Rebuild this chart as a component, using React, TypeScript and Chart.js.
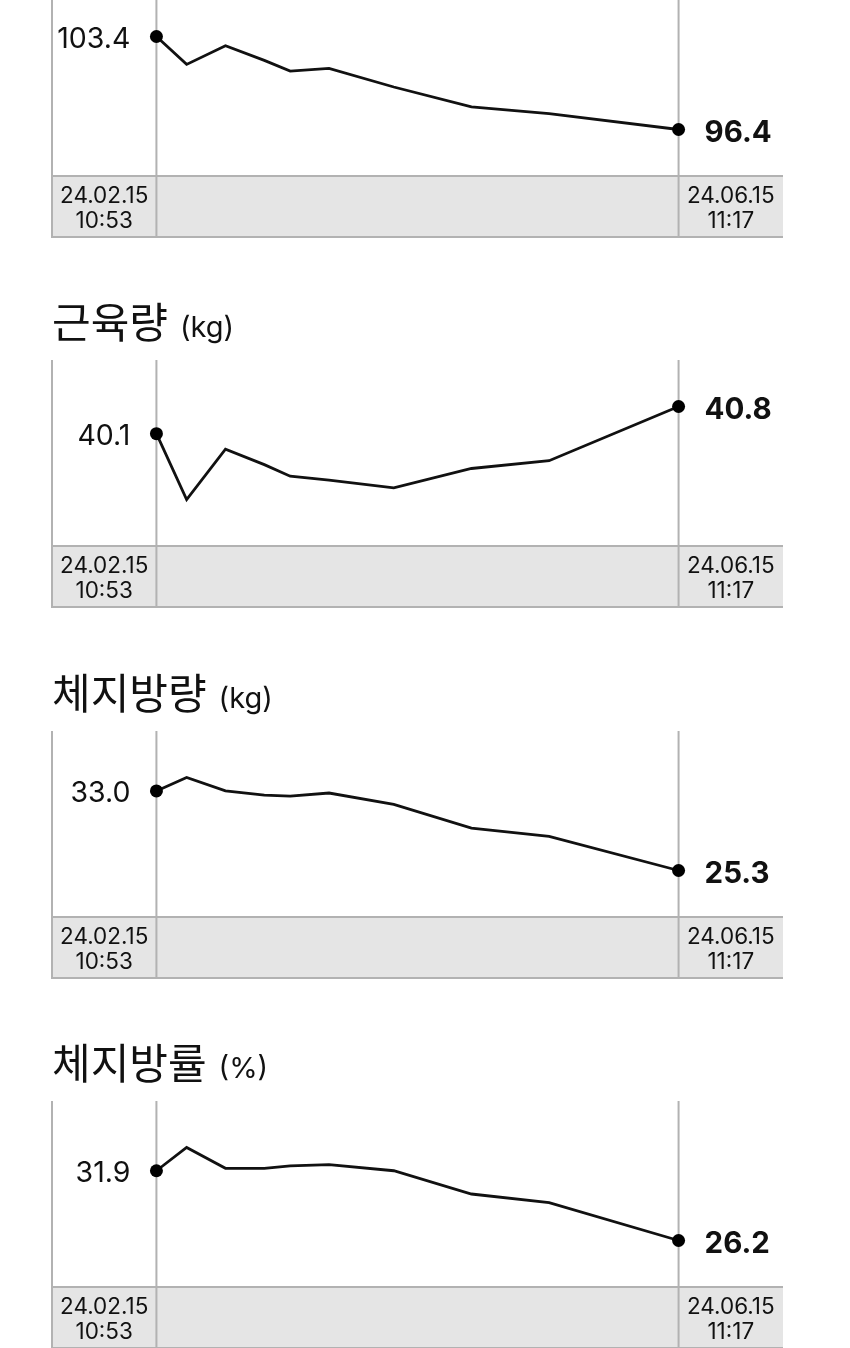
import React, { useEffect, useRef } from "react";
import { Chart, registerables } from "chart.js";

Chart.register(...registerables);

// ---- data ----
const measureDays = [0, 7, 16, 25, 31, 40, 55, 73, 91, 121]; // days since first measurement
const firstStamp = ["24.02.15", "10:53"];
const lastStamp = ["24.06.15", "11:17"];

const weightKg = [103.4, 101.3, 102.7, 101.6, 100.8, 101.0, 99.6, 98.1, 97.6, 96.4];
const muscleKg = [40.1, 38.4, 39.7, 39.3, 39.0, 38.9, 38.7, 39.2, 39.4, 40.8];
const fatKg = [33.0, 34.3, 33.0, 32.6, 32.5, 32.8, 31.7, 29.4, 28.6, 25.3];
const fatPct = [31.9, 33.8, 32.1, 32.1, 32.3, 32.4, 31.9, 30.0, 29.3, 26.2];

const panelTitles = ["체중", "근육량", "체지방량", "체지방률"];
const panelUnits = ["(kg)", "(kg)", "(kg)", "(%)"];
const panelSeries = [weightKg, muscleKg, fatKg, fatPct];

// ---- layout / style ----
const W = 850;
const PLOT_H = 186;
const BAND_H = 61;
const TOP_PAD = 70;
const LEFT = 52;
const RIGHT_EDGE = 783;
const FIRST_TOP = -10;
const PANEL_STEP = 370.3;
const GRID = "#b2b2b2";
const BAND = "#e5e5e5";
const INK = "#111111";
const LATIN = 'Inter, "Liberation Sans", Arial, sans-serif';
const KOREAN = '"Noto Sans CJK KR", "Noto Sans", sans-serif';

const decor = {
  id: "decor",
  beforeDatasetsDraw(chart: any, _args: any, opts: any) {
    const { ctx, chartArea: a, scales } = chart;
    const x0 = scales.x.getPixelForValue(measureDays[0]);
    const x1 = scales.x.getPixelForValue(measureDays[measureDays.length - 1]);
    const bandTop = a.bottom;
    const bandBot = a.bottom + BAND_H;
    ctx.save();
    ctx.fillStyle = BAND;
    ctx.fillRect(a.left, bandTop, a.right - a.left, BAND_H);
    ctx.strokeStyle = GRID;
    ctx.lineWidth = 2;
    ctx.beginPath();
    ctx.moveTo(a.left, a.top);
    ctx.lineTo(a.left, bandBot + 1);
    ctx.moveTo(x0, a.top);
    ctx.lineTo(x0, bandBot);
    ctx.moveTo(x1, a.top);
    ctx.lineTo(x1, bandBot);
    ctx.moveTo(a.left, bandTop);
    ctx.lineTo(a.right, bandTop);
    ctx.moveTo(a.left, bandBot);
    ctx.lineTo(a.right, bandBot);
    ctx.stroke();

    // date/time stamps in the band
    ctx.fillStyle = INK;
    ctx.font = `22.5px ${LATIN}`;
    ctx.textAlign = "center";
    ctx.textBaseline = "alphabetic";
    const cxL = (a.left + x0) / 2;
    const cxR = (x1 + a.right) / 2;
    ctx.fillText(firstStamp[0], cxL, bandTop + 26.5);
    ctx.fillText(firstStamp[1], cxL, bandTop + 52);
    ctx.fillText(lastStamp[0], cxR, bandTop + 26.5);
    ctx.fillText(lastStamp[1], cxR, bandTop + 52);

    // title
    ctx.textAlign = "left";
    ctx.font = `42px ${KOREAN}`;
    const tBase = a.top - 22;
    ctx.fillText(opts.title, a.left, tBase);
    const tw = ctx.measureText(opts.title).width;
    ctx.font = `29px ${LATIN}`;
    ctx.fillText(opts.unit, a.left + tw + 12, tBase - 1);
    ctx.restore();
  },
  afterDatasetsDraw(chart: any, _args: any, opts: any) {
    const { ctx, scales } = chart;
    const values: number[] = opts.values;
    const n = values.length;
    const x0 = scales.x.getPixelForValue(measureDays[0]);
    const x1 = scales.x.getPixelForValue(measureDays[n - 1]);
    const y0 = scales.y.getPixelForValue(values[0]);
    const y1 = scales.y.getPixelForValue(values[n - 1]);
    ctx.save();
    ctx.fillStyle = INK;
    ctx.textBaseline = "alphabetic";
    ctx.font = `28.5px ${LATIN}`;
    ctx.textAlign = "right";
    ctx.fillText(values[0].toFixed(1), x0 - 26, y0 + 11);
    ctx.font = `bold 29.5px ${LATIN}`;
    ctx.textAlign = "left";
    ctx.fillText(values[n - 1].toFixed(1), x1 + 26, y1 + 12.5);
    ctx.restore();
  },
};

function Panel({ index }: { index: number }) {
  const ref = useRef<HTMLCanvasElement | null>(null);
  useEffect(() => {
    const values = panelSeries[index];
    const lo = Math.min(...values);
    const hi = Math.max(...values);
    const r = hi - lo;
    const d0 = measureDays[0];
    const d1 = measureDays[measureDays.length - 1];
    const dr = d1 - d0;
    const last = values.length - 1;
    const chart = new Chart(ref.current as HTMLCanvasElement, {
      type: "line",
      data: {
        datasets: [
          {
            data: measureDays.map((d, i) => ({ x: d, y: values[i] })),
            borderColor: INK,
            borderWidth: 2.8,
            tension: 0,
            fill: false,
            pointRadius: values.map((_, i) => (i === 0 || i === last ? 6.5 : 0)),
            pointBackgroundColor: "#000",
            pointBorderWidth: 0,
            pointHoverRadius: 0,
          },
        ],
      },
      options: {
        animation: false,
        responsive: false,
        devicePixelRatio: 1,
        events: [],
        layout: {
          padding: { left: LEFT, right: W - RIGHT_EDGE, top: TOP_PAD, bottom: BAND_H + 1 },
        },
        scales: {
          x: { type: "linear", display: false, min: d0 - 0.2 * dr, max: d1 + 0.2 * dr },
          y: { type: "linear", display: false, min: lo - 0.5 * r, max: hi + 0.5 * r },
        },
        plugins: {
          legend: { display: false },
          tooltip: { enabled: false },
          decor: { title: panelTitles[index], unit: panelUnits[index], values },
        } as any,
      },
      plugins: [decor],
    });
    return () => chart.destroy();
  }, [index]);
  const top = Math.round(FIRST_TOP + index * PANEL_STEP - TOP_PAD);
  return (
    <canvas
      ref={ref}
      width={W}
      height={TOP_PAD + PLOT_H + BAND_H + 1}
      style={{ position: "absolute", left: 0, top, display: "block" }}
    />
  );
}

export default function App() {
  return (
    <div
      style={{
        position: "absolute",
        top: 0,
        left: 0,
        width: W,
        height: 1348,
        overflow: "hidden",
        background: "#ffffff",
      }}
    >
      {panelSeries.map((_, i) => (
        <Panel key={i} index={i} />
      ))}
    </div>
  );
}
